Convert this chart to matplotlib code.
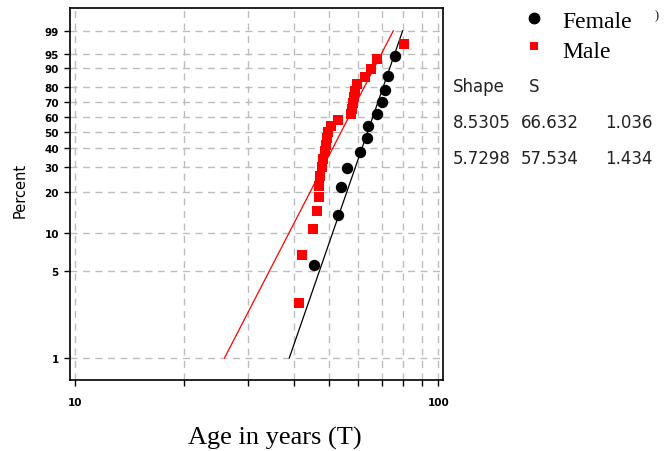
import numpy as np
import matplotlib
matplotlib.use('Agg')
import matplotlib.pyplot as plt
from matplotlib.lines import Line2D

# Female: age (years) and plotting position (percent)
female_age = [45.5, 53.0, 54.0, 56.1, 61.0, 63.7, 64.1, 67.9, 69.7, 71.4, 72.8, 76.1]
female_pct = [5.6, 13.7, 21.8, 29.8, 37.9, 46.0, 54.0, 62.1, 70.2, 78.2, 86.3, 94.4]

# Male
male_age = [41.2, 42.2, 45.3, 46.4, 47.0, 47.0, 47.3, 47.9, 48.2, 48.8, 49.1, 49.4, 49.8,
            50.6, 53.0, 57.6, 57.9, 58.2, 58.6, 59.0, 59.8, 62.9, 65.4, 67.9, 80.6]
male_pct = [2.76, 6.69, 10.63, 14.57, 18.50, 22.44, 26.38, 30.31, 34.25, 38.19, 42.13,
            46.06, 50.0, 53.94, 57.87, 61.81, 65.75, 69.69, 73.62, 77.56, 81.50, 85.43,
            89.37, 93.31, 97.24]

# fitted Weibull parameters shown in the table
groups = ['Female', 'Male']
shape = [8.5305, 5.7298]
scale = [66.632, 57.534]
third = ['1.036', '1.434']
fit_pct = np.array([1.0, 99.0])

yticks = [1, 5, 10, 20, 30, 40, 50, 60, 70, 80, 90, 95, 99]
xticks = [10, 20, 30, 40, 50, 60, 70, 80, 90, 100]


def fwd(p):
    p = np.clip(np.asarray(p, dtype=float), 1e-6, 100 - 1e-6)
    return np.log(-np.log(1 - p / 100.0))


def inv(w):
    return 100.0 * (1 - np.exp(-np.exp(w)))


fig = plt.figure(figsize=(6.66, 4.52), dpi=100)
ax = fig.add_axes([70 / 666, 71 / 452, 373 / 666, 372 / 452])

ax.set_xscale('log')
ax.set_yscale('function', functions=(fwd, inv))
ax.set_xlim(9.688, 102.9)
ax.set_ylim(0.6633, 99.914)

for a in xticks:
    ax.axvline(a, color='#bdbdbd', lw=1, ls=(0, (5, 4)), zorder=0)
for p in yticks:
    ax.axhline(p, color='#bdbdbd', lw=1, ls=(0, (5, 4)), zorder=0)

colors = ['black', 'red']
for k in range(2):
    t = scale[k] * (-np.log(1 - fit_pct / 100.0)) ** (1 / shape[k])
    ax.plot(t, fit_pct, color=colors[k], lw=0.9, zorder=2)

ax.plot(female_age, female_pct, 'o', color='black', ms=7.2, zorder=3)
ax.plot(male_age, male_pct, 's', color='red', ms=6.8, mew=0, zorder=3)

ax.set_xticks(xticks)
ax.set_xticklabels(['10', '', '', '', '', '', '', '', '', '100'])
ax.xaxis.set_minor_locator(matplotlib.ticker.NullLocator())
ax.set_yticks(yticks)
ax.set_yticklabels([str(v) for v in yticks])
ax.yaxis.set_minor_locator(matplotlib.ticker.NullLocator())
ax.tick_params(axis='both', labelsize=7.5, length=4, width=1, color='black')
ax.tick_params(axis='x', pad=8)
ax.tick_params(axis='y', pad=4)
for lab in ax.get_xticklabels() + ax.get_yticklabels():
    lab.set_fontweight('bold')
for s in ax.spines.values():
    s.set_linewidth(1.2)

fig.text(20 / 666, 1 - 190 / 452, 'Percent', rotation=90, fontsize=10.5,
         ha='center', va='center')
fig.text(275 / 666, 1 - 438 / 452, 'Age in years (T)', fontsize=19,
         family='Liberation Serif', ha='center', va='center')

# legend
fig.add_artist(Line2D([534 / 666], [1 - 19 / 452], marker='o', color='black', ms=7.5,
                      ls='none', transform=fig.transFigure))
fig.add_artist(Line2D([534 / 666], [1 - 47 / 452], marker='s', color='red', ms=5.5,
                      mew=0, ls='none', transform=fig.transFigure))
fig.text(562 / 666, 1 - 22 / 452, groups[0], fontsize=17, family='Liberation Serif',
         va='center')
fig.text(562 / 666, 1 - 53 / 452, groups[1], fontsize=17, family='Liberation Serif',
         va='center')
fig.text(655 / 666, 1 - 16 / 452, ')', fontsize=9, family='Liberation Serif', va='center')

# parameter table
fig.text(453 / 666, 1 - 87 / 452, 'Shape', fontsize=12, va='center', color='#222222')
fig.text(529 / 666, 1 - 87 / 452, 'S', fontsize=12, va='center', color='#222222')
for k, yy in enumerate([123, 159]):
    fig.text(453 / 666, 1 - yy / 452, f'{shape[k]:.4f}', fontsize=12,
             va='center', color='#222222')
    fig.text(521 / 666, 1 - yy / 452, f'{scale[k]:.3f}', fontsize=12,
             va='center', color='#222222')
    fig.text(605 / 666, 1 - yy / 452, third[k], fontsize=12,
             va='center', color='#222222')

fig.savefig('out.png', dpi=100)
